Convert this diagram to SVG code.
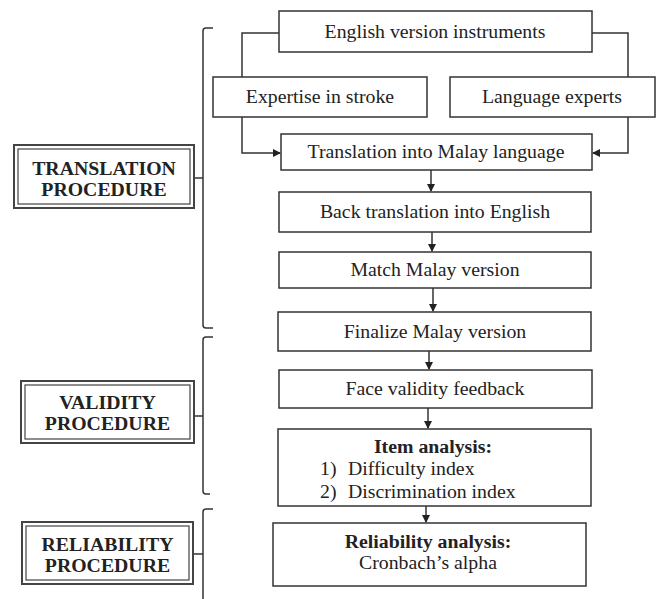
<svg xmlns="http://www.w3.org/2000/svg" width="660" height="599" viewBox="0 0 660 599">
<defs>
<marker id="ah" markerWidth="8" markerHeight="8" refX="7" refY="4" orient="auto" markerUnits="userSpaceOnUse">
<path d="M0,0 L8,4 L0,8 Z" fill="#222"/>
</marker>
<style>
.box{fill:#fff;stroke:#333;stroke-width:1.5}
.t{font-family:"Liberation Serif","Times New Roman",serif;font-size:19.8px;fill:#222;text-anchor:middle}
.b{font-weight:bold}
.l{text-anchor:start}
.outer{fill:#fff;stroke:#444;stroke-width:2}
.inner{fill:none;stroke:#444;stroke-width:1.2}
.con{fill:none;stroke:#333;stroke-width:1.5}
.br{fill:none;stroke:#333;stroke-width:1.5}
</style>
</defs>
<rect width="660" height="599" fill="#fff"/>

<g id="brackets">
<path class="br" d="M213,28 H206 Q203,28 203,31 V325 Q203,328 206,328 H213 M203,178 H194"/>
<path class="br" d="M213,337 H206 Q203,337 203,340 V491 Q203,494 206,494 H210 M203,416 H194"/>
<path class="br" d="M213,509 H206 Q203,509 203,512 V599 M203,554 H194"/>
</g>

<g id="label-translation">
<rect class="outer" x="14" y="145" width="180" height="63"/>
<rect class="inner" x="18" y="149" width="172" height="55"/>
<text class="t b" x="104" y="175">TRANSLATION</text>
<text class="t b" x="104" y="196">PROCEDURE</text>
</g>
<g id="label-validity">
<rect class="outer" x="21" y="381" width="173" height="62"/>
<rect class="inner" x="25" y="385" width="165" height="54"/>
<text class="t b" x="107.5" y="409">VALIDITY</text>
<text class="t b" x="107.5" y="430">PROCEDURE</text>
</g>
<g id="label-reliability">
<rect class="outer" x="22" y="522" width="171" height="62"/>
<rect class="inner" x="26" y="526" width="163" height="54"/>
<text class="t b" x="107.5" y="551">RELIABILITY</text>
<text class="t b" x="107.5" y="572">PROCEDURE</text>
</g>

<g id="connectors">
<path class="con" d="M279,33 H242 V77"/>
<path class="con" d="M242,112 V153 H280" marker-end="url(#ah)"/>
<path class="con" d="M592,33 H628 V77"/>
<path class="con" d="M628,117 V153 H593" marker-end="url(#ah)"/>
<path class="con" d="M431,170 V191" marker-end="url(#ah)"/>
<path class="con" d="M432,232 V251" marker-end="url(#ah)"/>
<path class="con" d="M433,288 V311" marker-end="url(#ah)"/>
<path class="con" d="M429,351 V369" marker-end="url(#ah)"/>
<path class="con" d="M428,408 V428" marker-end="url(#ah)"/>
<path class="con" d="M426,506 V522" marker-end="url(#ah)"/>
</g>

<g id="n-english">
<rect class="box" x="279" y="11" width="313" height="41"/>
<text class="t" x="435" y="38">English version instruments</text>
</g>
<g id="n-expertise">
<rect class="box" x="213" y="77" width="214" height="40"/>
<text class="t" x="320" y="103">Expertise in stroke</text>
</g>
<g id="n-language">
<rect class="box" x="450" y="77" width="205" height="40"/>
<text class="t" x="552" y="103">Language experts</text>
</g>
<g id="n-translation">
<rect class="box" x="281" y="134" width="311" height="36"/>
<text class="t" x="436" y="158">Translation into Malay language</text>
</g>
<g id="n-back">
<rect class="box" x="279" y="192" width="312" height="40"/>
<text class="t" x="435" y="218">Back translation into English</text>
</g>
<g id="n-match">
<rect class="box" x="279" y="252" width="312" height="36"/>
<text class="t" x="435" y="276">Match Malay version</text>
</g>
<g id="n-finalize">
<rect class="box" x="278" y="312" width="313" height="39"/>
<text class="t" x="435" y="338">Finalize Malay version</text>
</g>
<g id="n-face">
<rect class="box" x="279" y="370" width="313" height="38"/>
<text class="t" x="435" y="395">Face validity feedback</text>
</g>
<g id="n-item">
<rect class="box" x="278" y="429" width="313" height="77"/>
<text class="t b" x="433" y="453">Item analysis:</text>
<text class="t l" x="320" y="475">1)</text>
<text class="t l" x="348" y="475">Difficulty index</text>
<text class="t l" x="320" y="498">2)</text>
<text class="t l" x="348" y="498">Discrimination index</text>
</g>
<g id="n-reliability">
<rect class="box" x="273" y="523" width="313" height="63"/>
<text class="t b" x="428" y="548">Reliability analysis:</text>
<text class="t" x="428" y="569">Cronbach’s alpha</text>
</g>
</svg>
